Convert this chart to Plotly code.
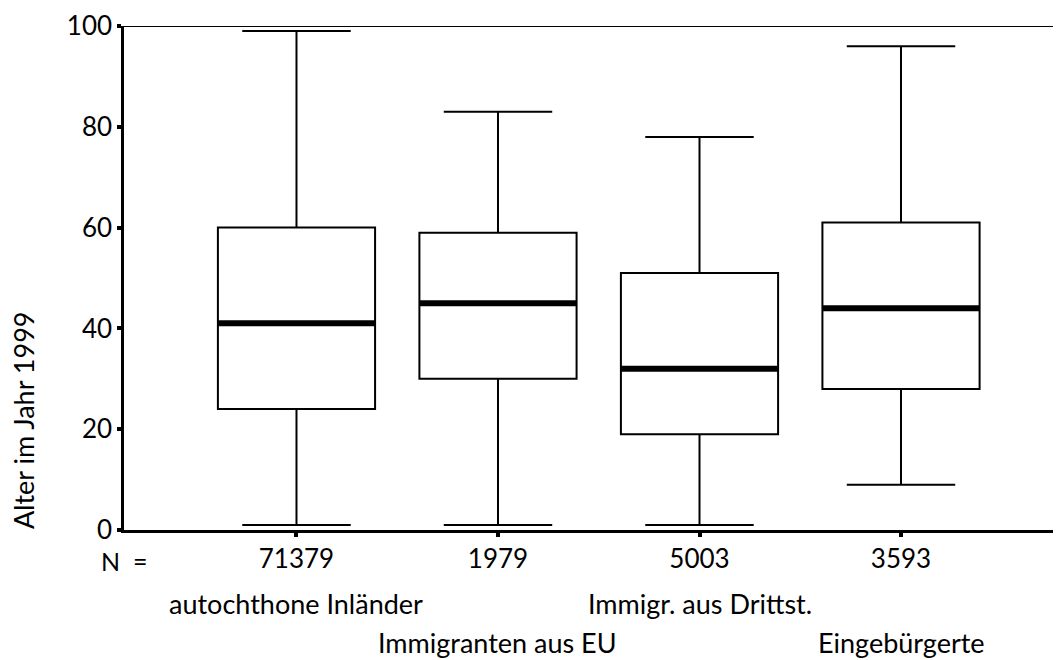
import plotly.graph_objects as go

# ---- data ----
groups = ["autochthone Inländer", "Immigranten aus EU", "Immigr. aus Drittst.", "Eingebürgerte"]
n_counts = ["71379", "1979", "5003", "3593"]
lower_whisker = [1, 1, 1, 9]
q1 = [24, 30, 19, 28]
median = [41, 45, 32, 44]
q3 = [60, 59, 51, 61]
upper_whisker = [99, 83, 78, 96]
y_ticks = [0, 20, 40, 60, 80, 100]

FONT = "Lato"
BOX_W = 0.78
positions = list(range(1, len(groups) + 1))

fig = go.Figure()
for i, pos in enumerate(positions):
    fig.add_trace(go.Box(
        x=[pos], q1=[q1[i]], median=[median[i]], q3=[q3[i]],
        lowerfence=[lower_whisker[i]], upperfence=[upper_whisker[i]],
        width=BOX_W, whiskerwidth=0.69,
        line=dict(color="black", width=2), fillcolor="white",
        boxpoints=False, showlegend=False, hoverinfo="skip",
    ))
    fig.add_trace(go.Scatter(
        x=[pos - BOX_W / 2, pos + BOX_W / 2], y=[median[i], median[i]],
        mode="lines", line=dict(color="black", width=6),
        showlegend=False, hoverinfo="skip",
    ))

# top frame line
fig.add_shape(type="line", xref="paper", yref="y", x0=0, x1=1, y0=100, y1=100,
              line=dict(color="black", width=2))

annotations = []
# category names, staggered over two rows
for i, (pos, name) in enumerate(zip(positions, groups)):
    annotations.append(dict(
        x=pos, xref="x", y=-0.145 if i % 2 == 0 else -0.224, yref="paper",
        text=name, showarrow=False, xanchor="center", yanchor="middle",
        font=dict(family=FONT, size=27, color="black"),
    ))
annotations.append(dict(
    x=0.0, xref="paper", y=-0.061, yref="paper", text="N&nbsp;&nbsp;=",
    showarrow=False, xanchor="center", yanchor="middle",
    font=dict(family=FONT, size=25, color="black"),
))
annotations.append(dict(
    x=-0.1078, xref="paper", y=0.218, yref="paper", text="Alter im Jahr 1999",
    textangle=-90, showarrow=False, xanchor="center", yanchor="middle",
    font=dict(family=FONT, size=27, color="black"),
))

# page body has an 8px default margin; figure sized so the plot lands where the reference has it
fig.update_layout(
    width=1053, height=652,
    margin=dict(l=116, r=0, t=18, b=130),
    plot_bgcolor="white", paper_bgcolor="white",
    font=dict(family=FONT, color="black"),
    annotations=annotations,
    xaxis=dict(
        range=[0.144, 4.794], tickmode="array", tickvals=positions, ticktext=n_counts,
        showline=True, linecolor="black", linewidth=2.5,
        ticks="outside", ticklen=4, tickwidth=4, tickcolor="black",
        showgrid=False, zeroline=False,
        tickfont=dict(family=FONT, size=26, color="black"),
    ),
    yaxis=dict(
        range=[0, 100], tickmode="array", tickvals=y_ticks,
        showline=True, linecolor="black", linewidth=2.5,
        ticks="outside", ticklen=4, tickwidth=4, tickcolor="black",
        showgrid=False, zeroline=False,
        tickfont=dict(family=FONT, size=26, color="black"),
    ),
)

fig.write_html("out.html")
